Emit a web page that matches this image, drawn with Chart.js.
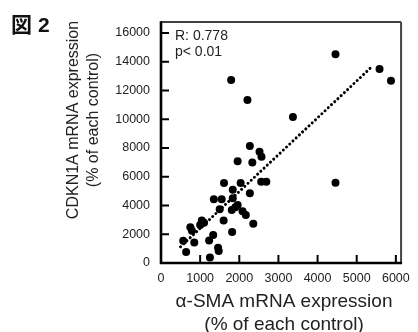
<!DOCTYPE html>
<html lang="ja">
<head>
<meta charset="UTF-8">
<title>図 2</title>
<script src="https://cdn.jsdelivr.net/npm/chart.js"></script>
<style>
  body { margin: 0; background: #fff; }
  #wrap { width: 418px; height: 332px; }
</style>
</head>
<body>
<div id="wrap"><canvas id="myChart" width="418" height="332"></canvas></div>
<script>
// tick labels
const xTicks = [0, 1000, 2000, 3000, 4000, 5000, 6000];
const yTicks = [0, 2000, 4000, 6000, 8000, 10000, 12000, 14000, 16000];

// α-SMA (x) vs CDKN1A (y), % of each control
const alphaSMA = [4458, 5583, 5875, 1792, 2208, 3370, 2270, 2517, 2567, 1958,
  2333, 2560, 2690, 1610, 2035, 1833, 2270, 4458, 1350, 1550,
  1833, 1958, 1500, 1808, 2083, 2167, 2358, 1042, 1000, 1600,
  1900, 750, 790, 1817, 567, 850, 1333, 1230, 642, 1458,
  1475, 1250, 1100];
const cdkn1a = [14520, 13500, 12680, 12730, 11340, 10160, 8140, 7740, 7400, 7080,
  6990, 5660, 5660, 5560, 5570, 5100, 4850, 5590, 4430, 4430,
  4500, 4035, 3735, 3690, 3600, 3340, 2730, 2960, 2640, 2960,
  3875, 2480, 2250, 2150, 1550, 1430, 1950, 1560, 760, 1060,
  835, 380, 2800];

// regression line end points
const fitX = [500, 5415];
const fitY = [1130, 13730];

const statLines = ["R: 0.778", "p< 0.01"];
const xTitle = ["α-SMA mRNA expression", "(% of each control)"];
const yTitle = ["CDKN1A mRNA expression", "(% of each control)"];

const puntos = alphaSMA.map((v, i) => ({ x: v, y: cdkn1a[i] }));
const recta = fitX.map((v, i) => ({ x: v, y: fitY[i] }));

const marco = {
  id: "marco",
  afterDraw(chart) {
    const { ctx, chartArea: a, scales: { x, y } } = chart;
    ctx.save();
    // box
    ctx.strokeStyle = "#000";
    ctx.lineWidth = 1.5;
    ctx.beginPath(); ctx.moveTo(a.left, a.top); ctx.lineTo(a.right, a.top); ctx.stroke();
    ctx.strokeStyle = "#444";
    ctx.lineWidth = 2;
    ctx.beginPath(); ctx.moveTo(a.right, a.top); ctx.lineTo(a.right, a.bottom); ctx.stroke();
    ctx.strokeStyle = "#000";
    ctx.lineWidth = 2.6;
    ctx.beginPath();
    ctx.moveTo(a.left, a.top - 0.7); ctx.lineTo(a.left, a.bottom); ctx.lineTo(a.right + 1, a.bottom);
    ctx.stroke();
    // inward ticks
    ctx.lineWidth = 2;
    xTicks.forEach(v => {
      if (v === 0) return;
      const px = x.getPixelForValue(v);
      ctx.beginPath(); ctx.moveTo(px, a.bottom); ctx.lineTo(px, a.bottom - 8); ctx.stroke();
    });
    yTicks.forEach(v => {
      if (v === 0) return;
      const py = y.getPixelForValue(v);
      ctx.beginPath(); ctx.moveTo(a.left, py); ctx.lineTo(a.left + 8, py); ctx.stroke();
    });

    // stats
    ctx.fillStyle = "#222";
    ctx.font = "14px 'Liberation Sans', Arial, sans-serif";
    ctx.textAlign = "left";
    ctx.textBaseline = "alphabetic";
    ctx.fillText(statLines[0], a.left + 14, a.top + 18);
    ctx.fillText(statLines[1], a.left + 14, a.top + 34);

    // x title
    ctx.font = "19px 'Liberation Sans', Arial, sans-serif";
    ctx.textAlign = "center";
    ctx.textBaseline = "middle";
    const cx = (a.left + a.right) / 2 + 3;
    ctx.fillText(xTitle[0], cx, 302);
    ctx.fillText(xTitle[1], cx, 325);

    // y title
    ctx.save();
    ctx.translate(0, 120);
    ctx.rotate(-Math.PI / 2);
    ctx.font = "16px 'Liberation Sans', Arial, sans-serif";
    ctx.fillText(yTitle[0], 0, 74);
    ctx.fillText(yTitle[1], 0, 94);
    ctx.restore();

    // figure label
    ctx.fillStyle = "#111";
    ctx.textAlign = "left";
    ctx.textBaseline = "alphabetic";
    ctx.font = "bold 21px 'Noto Sans CJK JP', sans-serif";
    ctx.fillText("図", 11, 32);
    ctx.font = "bold 21px 'Liberation Sans', Arial, sans-serif";
    ctx.fillText("2", 38, 32);
    ctx.restore();
  }
};

const config = {
  type: "scatter",
  data: {
    datasets: [
      {
        label: "fit",
        type: "line",
        data: recta,
        showLine: true,
        borderColor: "#000",
        borderWidth: 3,
        borderDash: [0.01, 4.4],
        borderCapStyle: "round",
        pointRadius: 0,
        fill: false
      },
      {
        label: "samples",
        data: puntos,
        backgroundColor: "#000",
        borderWidth: 0,
        pointRadius: 4,
        pointHoverRadius: 4
      }
    ]
  },
  options: {
    responsive: false,
    animation: false,
    devicePixelRatio: 1,
    layout: { padding: { top: 22, right: 11, left: 0, bottom: 0 } },
    plugins: { legend: { display: false }, tooltip: { enabled: false } },
    scales: {
      x: {
        type: "linear",
        min: 0,
        max: 6133,
        grid: { display: false, drawTicks: false },
        border: { display: false },
        afterFit(s) { s.height = 69; },
        afterBuildTicks(s) { s.ticks = xTicks.map(v => ({ value: v })); },
        ticks: {
          color: "#222",
          padding: 8,
          maxRotation: 0,
          callback: v => String(v),
          font: { family: "'Liberation Sans', Arial, sans-serif", size: 12.5 }
        }
      },
      y: {
        type: "linear",
        min: 0,
        max: 16766,
        grid: { display: false, drawTicks: false },
        border: { display: false },
        afterFit(s) { s.width = 161; },
        afterBuildTicks(s) { s.ticks = yTicks.map(v => ({ value: v })); },
        ticks: {
          color: "#222",
          padding: 11,
          callback: v => String(v),
          font: { family: "'Liberation Sans', Arial, sans-serif", size: 12.5 }
        }
      }
    }
  },
  plugins: [marco]
};

const grafico = new Chart(document.getElementById("myChart").getContext("2d"), config);
</script>
</body>
</html>
